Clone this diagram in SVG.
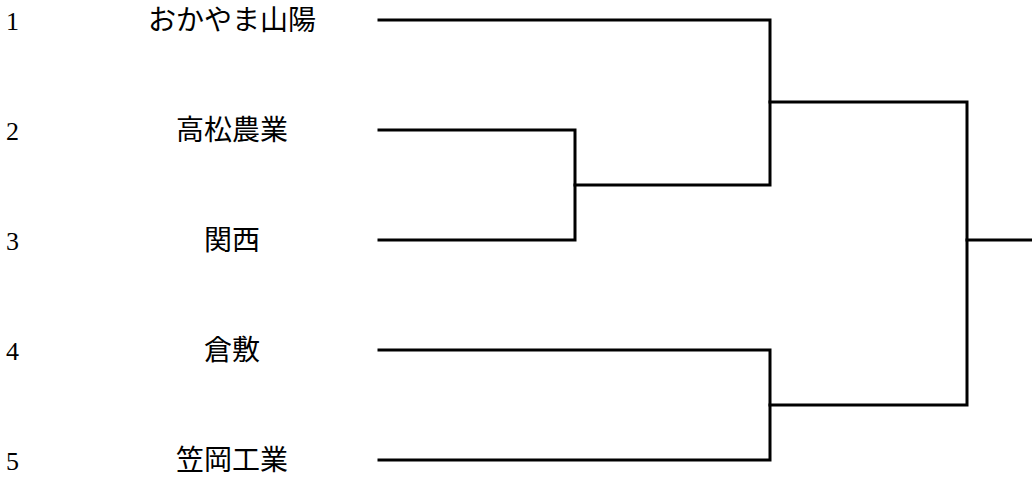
<svg xmlns="http://www.w3.org/2000/svg" width="1032" height="479" viewBox="0 0 1032 479">
<style>
.num{font-family:"Liberation Serif","DejaVu Serif",serif;font-size:26px;fill:#000}
.name{font-family:"Liberation Serif","Noto Sans CJK JP",serif;font-size:28px;fill:#000;text-anchor:middle}
.ln{fill:none;stroke:#000;stroke-width:3;stroke-linecap:square;stroke-linejoin:miter}
</style>
<rect width="1032" height="479" fill="#fff"/>
<g id="team1"><text class="num" x="6" y="30">1</text><text class="name" x="232" y="30">おかやま山陽</text></g>
<g id="team2"><text class="num" x="6" y="140">2</text><text class="name" x="232" y="140">高松農業</text></g>
<g id="team3"><text class="num" x="6" y="250">3</text><text class="name" x="232" y="250">関西</text></g>
<g id="team4"><text class="num" x="6" y="360">4</text><text class="name" x="232" y="360">倉敷</text></g>
<g id="team5"><text class="num" x="6" y="470">5</text><text class="name" x="232" y="470">笠岡工業</text></g>
<g id="connectors">
<polyline class="ln" points="379,20 770,20 770,185 575,185"/>
<polyline class="ln" points="379,130 575,130 575,240 379,240"/>
<polyline class="ln" points="770,102 967,102 967,405 770,405"/>
<polyline class="ln" points="379,350 770,350 770,460 379,460"/>
<line class="ln" x1="967" y1="240" x2="1033" y2="240"/>
</g>
</svg>
